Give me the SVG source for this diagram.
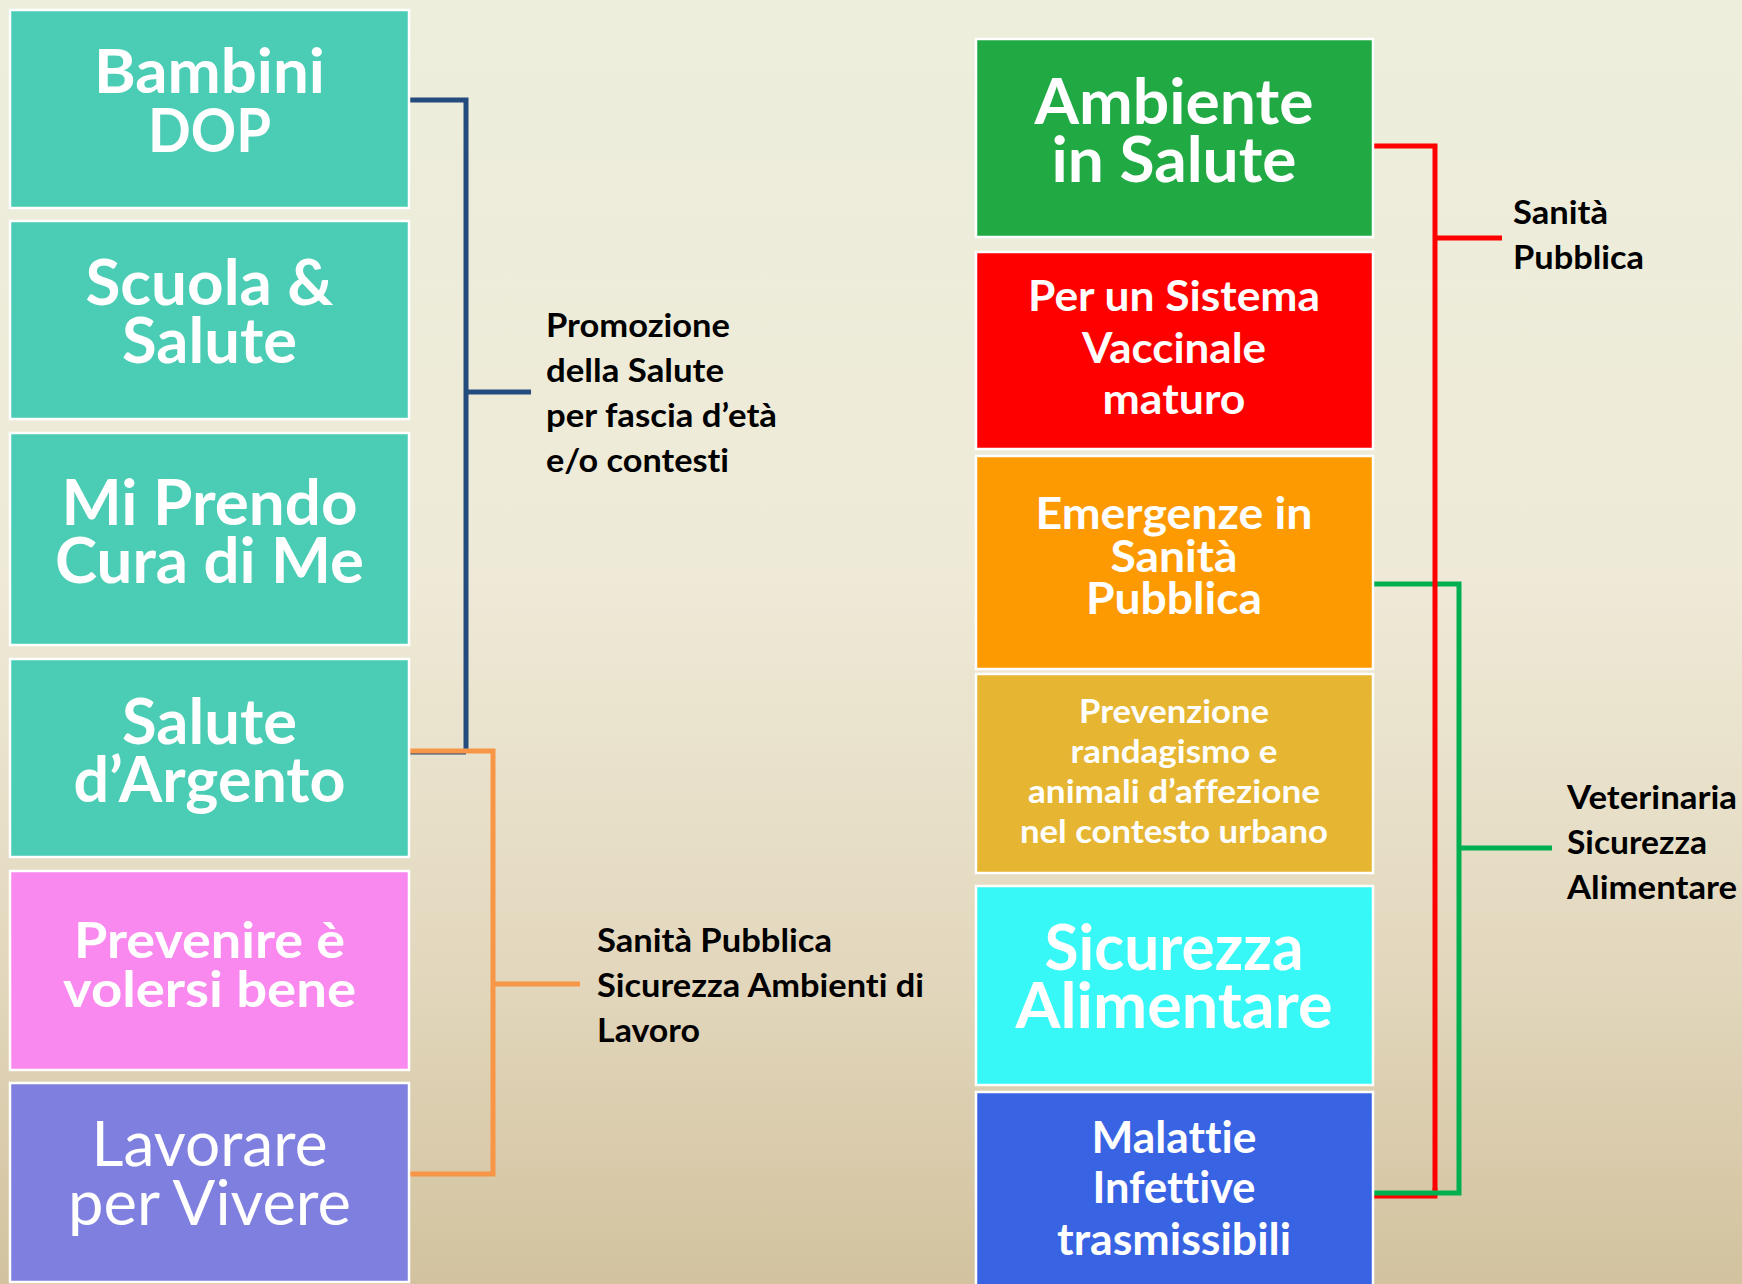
<svg xmlns="http://www.w3.org/2000/svg" width="1742" height="1284" viewBox="0 0 1742 1284">
<defs>
<linearGradient id="bg" x1="0" y1="0" x2="0" y2="1">
<stop offset="0" stop-color="#EDEEDC"/>
<stop offset="0.45" stop-color="#EEEAD7"/>
<stop offset="0.75" stop-color="#E3D8BE"/>
<stop offset="1" stop-color="#D2C29E"/>
</linearGradient>
<style>
.box{stroke:#FFFFFF;stroke-width:2.5}
.t{font-family:Lato,"Open Sans","Liberation Sans",sans-serif;font-weight:bold;fill:#FFFFFF;text-anchor:middle;font-variant-ligatures:none}
.reg{font-weight:normal}
.lbl{font-family:Lato,"Open Sans","Liberation Sans",sans-serif;font-weight:bold;fill:#000000;font-size:32px;font-variant-ligatures:none}
.c{fill:none;stroke-width:5;stroke-linejoin:miter}
</style>
</defs>
<rect x="0" y="0" width="1742" height="1284" fill="url(#bg)"/>

<g id="connectors">
<path class="c" stroke="#244B7D" d="M405,100 H466 V752 M466,392 H531 M405,752 H466"/>
<path class="c" stroke="#F79646" d="M405,751 H493 V1174 H405 M493,984 H580"/>
<path class="c" stroke="#FF0000" d="M1373,1196 H1435 V1188"/>
<path class="c" stroke="#00B050" d="M1373,584 H1459 V1193 H1373 M1459,848 H1552"/>
<path class="c" stroke="#FF0000" d="M1373,146 H1435 V1190 M1435,238 H1502"/>
</g>

<g id="n-bambini">
<rect class="box" x="10" y="10" width="399" height="198" fill="#4ACDB4"/>
<text class="t" font-size="62" x="209.5" y="93" textLength="231" lengthAdjust="spacingAndGlyphs">Bambini</text>
<text class="t" font-size="62" x="209.5" y="152" textLength="123" lengthAdjust="spacingAndGlyphs">DOP</text>
</g>
<g id="n-scuola">
<rect class="box" x="10" y="221" width="399" height="198" fill="#4ACDB4"/>
<text class="t" font-size="63" x="209.5" y="305" textLength="248" lengthAdjust="spacingAndGlyphs">Scuola &amp;</text>
<text class="t" font-size="63" x="209.5" y="363" textLength="175" lengthAdjust="spacingAndGlyphs">Salute</text>
</g>
<g id="n-miprendo">
<rect class="box" x="10" y="433" width="399" height="212" fill="#4ACDB4"/>
<text class="t" font-size="63" x="209.5" y="525" textLength="296" lengthAdjust="spacingAndGlyphs">Mi Prendo</text>
<text class="t" font-size="63" x="209.5" y="583" textLength="309" lengthAdjust="spacingAndGlyphs">Cura di Me</text>
</g>
<g id="n-argento">
<rect class="box" x="10" y="659" width="399" height="198" fill="#4ACDB4"/>
<text class="t" font-size="63" x="209.5" y="744" textLength="175" lengthAdjust="spacingAndGlyphs">Salute</text>
<text class="t" font-size="63" x="209.5" y="802" textLength="272" lengthAdjust="spacingAndGlyphs">d’Argento</text>
</g>
<g id="n-prevenire">
<rect class="box" x="10" y="871" width="399" height="199" fill="#F989EE"/>
<text class="t" font-size="49" x="209.5" y="958" textLength="271" lengthAdjust="spacingAndGlyphs">Prevenire è</text>
<text class="t" font-size="49" x="209.5" y="1007" textLength="293" lengthAdjust="spacingAndGlyphs">volersi bene</text>
</g>
<g id="n-lavorare">
<rect class="box" x="10" y="1083" width="399" height="199" fill="#7F7FE0"/>
<text class="t reg" font-size="61" x="209.5" y="1166" textLength="236" lengthAdjust="spacingAndGlyphs">Lavorare</text>
<text class="t reg" font-size="61" x="209.5" y="1225" textLength="283" lengthAdjust="spacingAndGlyphs">per Vivere</text>
</g>

<g id="n-ambiente">
<rect class="box" x="976" y="39" width="397" height="198" fill="#21AA43"/>
<text class="t" font-size="63" x="1174" y="124" textLength="279" lengthAdjust="spacingAndGlyphs">Ambiente</text>
<text class="t" font-size="63" x="1174" y="182" textLength="245" lengthAdjust="spacingAndGlyphs">in Salute</text>
</g>
<g id="n-vaccinale">
<rect class="box" x="976" y="252" width="397" height="197" fill="#FF0000"/>
<text class="t" font-size="42" x="1174" y="311" textLength="292" lengthAdjust="spacingAndGlyphs">Per un Sistema</text>
<text class="t" font-size="42" x="1174" y="363" textLength="184" lengthAdjust="spacingAndGlyphs">Vaccinale</text>
<text class="t" font-size="42" x="1174" y="414" textLength="143" lengthAdjust="spacingAndGlyphs">maturo</text>
</g>
<g id="n-emergenze">
<rect class="box" x="976" y="456" width="397" height="213" fill="#FD9A02"/>
<text class="t" font-size="44" x="1174" y="529" textLength="277" lengthAdjust="spacingAndGlyphs">Emergenze in</text>
<text class="t" font-size="44" x="1174" y="572" textLength="127" lengthAdjust="spacingAndGlyphs">Sanità</text>
<text class="t" font-size="44" x="1174" y="614" textLength="176" lengthAdjust="spacingAndGlyphs">Pubblica</text>
</g>
<g id="n-randagismo">
<rect class="box" x="976" y="674" width="397" height="199" fill="#E6B632"/>
<text class="t" font-size="33" x="1174" y="723" textLength="190" lengthAdjust="spacingAndGlyphs">Prevenzione</text>
<text class="t" font-size="33" x="1174" y="763" textLength="207" lengthAdjust="spacingAndGlyphs">randagismo e</text>
<text class="t" font-size="33" x="1174" y="803" textLength="292" lengthAdjust="spacingAndGlyphs">animali d’affezione</text>
<text class="t" font-size="33" x="1174" y="843" textLength="308" lengthAdjust="spacingAndGlyphs">nel contesto urbano</text>
</g>
<g id="n-sicurezza">
<rect class="box" x="976" y="886" width="397" height="199" fill="#37F8F6"/>
<text class="t" font-size="64" x="1174" y="970" textLength="259" lengthAdjust="spacingAndGlyphs">Sicurezza</text>
<text class="t" font-size="64" x="1174" y="1028" textLength="317" lengthAdjust="spacingAndGlyphs">Alimentare</text>
</g>
<g id="n-malattie">
<rect class="box" x="976" y="1092" width="397" height="200" fill="#3863E3"/>
<text class="t" font-size="43" x="1174" y="1153" textLength="165" lengthAdjust="spacingAndGlyphs">Malattie</text>
<text class="t" font-size="43" x="1174" y="1203" textLength="163" lengthAdjust="spacingAndGlyphs">Infettive</text>
<text class="t" font-size="43" x="1174" y="1255" textLength="234" lengthAdjust="spacingAndGlyphs">trasmissibili</text>
</g>

<g id="labels">
<text class="lbl" x="546" y="337" textLength="184" lengthAdjust="spacingAndGlyphs">Promozione</text>
<text class="lbl" x="546" y="382" textLength="178" lengthAdjust="spacingAndGlyphs">della Salute</text>
<text class="lbl" x="546" y="427" textLength="231" lengthAdjust="spacingAndGlyphs">per fascia d’età</text>
<text class="lbl" x="546" y="472" textLength="183" lengthAdjust="spacingAndGlyphs">e/o contesti</text>
<text class="lbl" x="597" y="952" textLength="235" lengthAdjust="spacingAndGlyphs">Sanità Pubblica</text>
<text class="lbl" x="597" y="997" textLength="327" lengthAdjust="spacingAndGlyphs">Sicurezza Ambienti di</text>
<text class="lbl" x="597" y="1042" textLength="103" lengthAdjust="spacingAndGlyphs">Lavoro</text>
<text class="lbl" x="1513" y="224" textLength="95" lengthAdjust="spacingAndGlyphs">Sanità</text>
<text class="lbl" x="1513" y="269" textLength="131" lengthAdjust="spacingAndGlyphs">Pubblica</text>
<text class="lbl" x="1567" y="809" textLength="170" lengthAdjust="spacingAndGlyphs">Veterinaria</text>
<text class="lbl" x="1567" y="854" textLength="140" lengthAdjust="spacingAndGlyphs">Sicurezza</text>
<text class="lbl" x="1567" y="899" textLength="170" lengthAdjust="spacingAndGlyphs">Alimentare</text>
</g>
</svg>
